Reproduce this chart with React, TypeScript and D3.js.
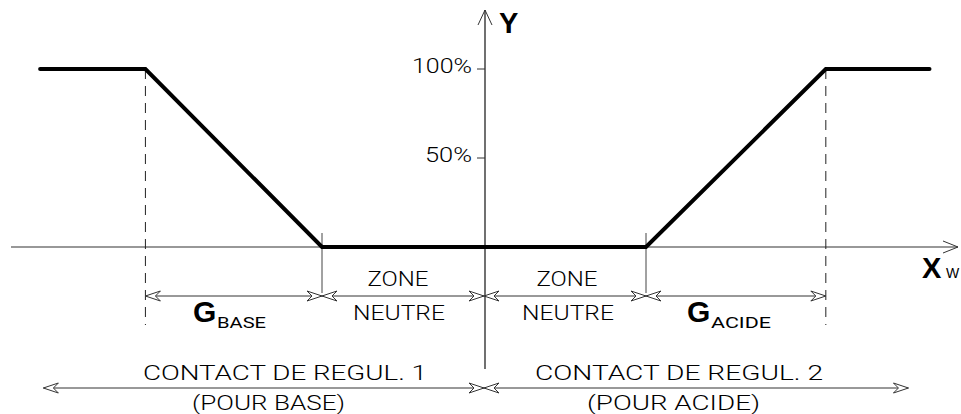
import React from "react";
import * as d3 from "d3";

// ---- Data ----
const curveX = [-2.74, -2.09, -1, 1, 2.11, 2.75];
const curveY = [100, 100, 0, 0, 100, 100];
const yTicks = [100, 50];
const yTickLabels = ["100%", "50%"];
const dashedAt = [-2.09, 2.11];
const zoneBounds = [-2.09, -1, 0, 1, 2.11];
const contactBounds = [-2.72, 0, 2.62];
const contactLabels = ["CONTACT DE REGUL. 1", "CONTACT DE REGUL. 2"];
const contactSubLabels = ["(POUR BASE)", "(POUR ACIDE)"];
const zoneLabels = ["ZONE", "NEUTRE"];
const gainSub = ["BASE", "ACIDE"];

const W = 961;
const H = 414;

const x = d3.scaleLinear().domain([-1, 1]).range([322, 646]);
const y = d3.scaleLinear().domain([0, 100]).range([247, 69]);

const thin = "Roboto, 'Liberation Sans', sans-serif";
const bold = "'Liberation Sans', Arial, sans-serif";

function arrowHead(tx: number, ty: number, d: number, key: string) {
  const p = `M${tx},${ty}L${tx - d * 15},${ty - 5}L${tx - d * 10},${ty}L${tx - d * 15},${ty + 5}Z`;
  return <path key={key} d={p} fill="#fff" stroke="#333" strokeWidth={1} />;
}

function dimLine(x1: number, x2: number, yy: number, key: string) {
  return (
    <g key={key}>
      <line x1={x1} x2={x2} y1={yy} y2={yy} stroke="#333" strokeWidth={1} />
      {arrowHead(x1, yy, -1, key + "a")}
      {arrowHead(x2, yy, 1, key + "b")}
    </g>
  );
}

export default function App() {
  const line = d3
    .line<number>()
    .x((_, i) => x(curveX[i]))
    .y((v) => y(v));
  const x0 = x(0) + 1;
  const dimY = 296;
  const contactY = 388;
  const txt = { fontFamily: thin, fontWeight: 300, fill: "#000" } as const;

  return (
    <svg
      width={W}
      height={H}
      style={{ position: "absolute", left: 0, top: 0, background: "#fff" }}
    >
      {/* X axis */}
      <line x1={11} x2={958} y1={y(0)} y2={y(0)} stroke="#333" strokeWidth={1.2} />
      <path
        d={`M943,${y(0) - 6}L958,${y(0)}L943,${y(0) + 6}`}
        fill="none"
        stroke="#333"
        strokeWidth={1}
      />
      {/* Y axis */}
      <line x1={x0} x2={x0} y1={10} y2={369} stroke="#111" strokeWidth={1.2} />
      <path d={`M${x0 - 7},25L${x0},10L${x0 + 7},25`} fill="none" stroke="#333" strokeWidth={1} />
      {yTicks.map((t, i) => (
        <g key={"t" + i}>
          <line x1={x0 - 8} x2={x0} y1={y(t)} y2={y(t)} stroke="#333" strokeWidth={1} />
          <text
            {...txt}
            x={472}
            y={y(t) + 3.5}
            textAnchor="end"
            fontSize={20}
            textLength={i === 0 ? 60 : 47}
            lengthAdjust="spacingAndGlyphs"
          >
            {yTickLabels[i]}
          </text>
        </g>
      ))}
      <text x={499} y={33} fontFamily={bold} fontWeight={700} fontSize={29} fill="#000">
        Y
      </text>
      <text x={922} y={278} fontFamily={bold} fontWeight={700} fontSize={29} fill="#000">
        X
      </text>
      <text x={946} y={278} fontFamily={bold} fontWeight={400} fontSize={14} fill="#000">
        W
      </text>

      {/* dashed lines */}
      {dashedAt.map((v, i) => (
        <line
          key={"d" + i}
          x1={x(v)}
          x2={x(v)}
          y1={y(100)}
          y2={325}
          stroke="#222"
          strokeWidth={1}
          strokeDasharray="10,7"
        />
      ))}
      {/* solid extension lines at neutral zone bounds */}
      {[-1, 1].map((v, i) => (
        <line key={"e" + i} x1={x(v)} x2={x(v)} y1={233} y2={293} stroke="#444" strokeWidth={1} />
      ))}

      {/* curve */}
      <path
        d={line(curveY) || ""}
        fill="none"
        stroke="#000"
        strokeWidth={4}
        strokeLinejoin="miter"
        strokeLinecap="round"
      />

      {/* dimension lines */}
      {zoneBounds.slice(0, -1).map((b, i) => dimLine(x(b), x(zoneBounds[i + 1]), dimY, "z" + i))}
      {contactBounds.slice(0, -1).map((b, i) =>
        dimLine(x(b), x(contactBounds[i + 1]), contactY, "c" + i)
      )}

      {/* zone labels */}
      {[398, 567].map((cx, i) => (
        <g key={"zl" + i}>
          <text
            {...txt}
            x={cx}
            y={286}
            textAnchor="middle"
            fontSize={20}
            textLength={61}
            lengthAdjust="spacingAndGlyphs"
          >
            {zoneLabels[0]}
          </text>
          <text
            {...txt}
            x={cx + 1}
            y={320}
            textAnchor="middle"
            fontSize={20}
            textLength={92}
            lengthAdjust="spacingAndGlyphs"
          >
            {zoneLabels[1]}
          </text>
        </g>
      ))}

      {/* gain labels */}
      {[193, 687].map((gx, i) => (
        <g key={"g" + i}>
          <text x={gx} y={322} fontFamily={bold} fontWeight={700} fontSize={30} fill="#000">
            G
          </text>
          <text
            {...txt}
            fontWeight={400}
            x={gx + 24}
            y={328}
            fontSize={15}
            textLength={i === 0 ? 49 : 60}
            lengthAdjust="spacingAndGlyphs"
          >
            {gainSub[i]}
          </text>
        </g>
      ))}

      {/* contact labels */}
      {[
        [143, 284, 192, 153],
        [535, 288, 587, 173],
      ].map(([cx, cw, px, pw], i) => (
        <g key={"cl" + i}>
          <text
            {...txt}
            x={cx}
            y={380}
            fontSize={21}
            textLength={cw}
            lengthAdjust="spacingAndGlyphs"
          >
            {contactLabels[i]}
          </text>
          <text
            {...txt}
            x={px}
            y={410}
            fontSize={21}
            textLength={pw}
            lengthAdjust="spacingAndGlyphs"
          >
            {contactSubLabels[i]}
          </text>
        </g>
      ))}
    </svg>
  );
}
